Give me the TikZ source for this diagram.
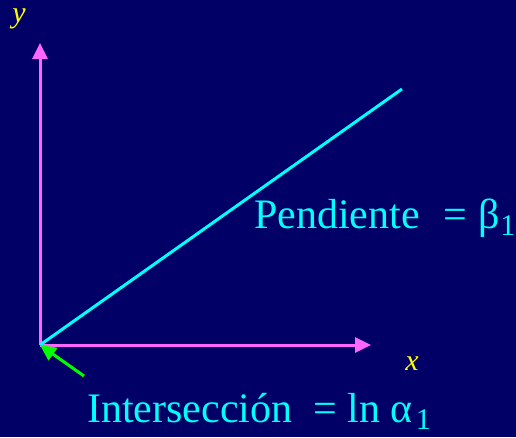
\documentclass[tikz,border=0pt]{standalone}
\usepackage{fontspec}
\setmainfont{Liberation Serif}
\usepackage{tikz}
\usetikzlibrary{arrows.meta, positioning}

\definecolor{fondo}{RGB}{0,0,102}
\definecolor{ejes}{RGB}{255,102,255}
\definecolor{recta}{RGB}{0,255,255}
\definecolor{flecha}{RGB}{0,255,0}
\definecolor{etiq}{RGB}{255,255,0}

\newcommand{\sub}[1]{\raisebox{-0.18em}{\fontsize{30}{32}\selectfont #1}}

\tikzset{
  eje/.style={ejes, line width=3pt, -{Triangle[length=16pt,width=15pt]}},
  varlbl/.style={etiq, font=\fontsize{30}{32}\selectfont\itshape, inner sep=0pt},
  texto/.style={recta, font=\fontsize{42}{48}\selectfont, inner sep=0pt, anchor=base west}
}

\begin{document}
\begin{tikzpicture}[x=1pt, y=-1pt]
  % fondo
  \fill[fondo] (0,0) rectangle (516,437);
  \useasboundingbox (0,0) rectangle (516,437);
  % puntos de los ejes
  \coordinate (O) at (40,345);
  \coordinate (ytip) at (40,43);
  \coordinate (xtip) at (371,345);
  \coordinate (fin) at (402,89);
  \coordinate (cola) at (84,376);
  % ejes
  \draw[eje] (O) -- (ytip);
  \draw[eje] (O) -- (xtip);
  \node[varlbl] (ylbl) at (19,19) {y};
  \node[varlbl] (xlbl) at (412,364) {x};
  % recta
  \draw[recta, line width=3pt] (O) -- (fin);
  \node[texto] (pend) at (254,228) {Pendiente\ \ \hspace{3pt}= β\hspace{1pt}\sub{1}};
  % intersecci\'on
  \draw[flecha, line width=3pt, -{Triangle[length=16pt,width=15pt]}] (cola) -- (O);
  \node[texto] (inter) at (87,422) {Intersección\ \ = ln α\hspace{3pt}\sub{1}};
\end{tikzpicture}
\end{document}
